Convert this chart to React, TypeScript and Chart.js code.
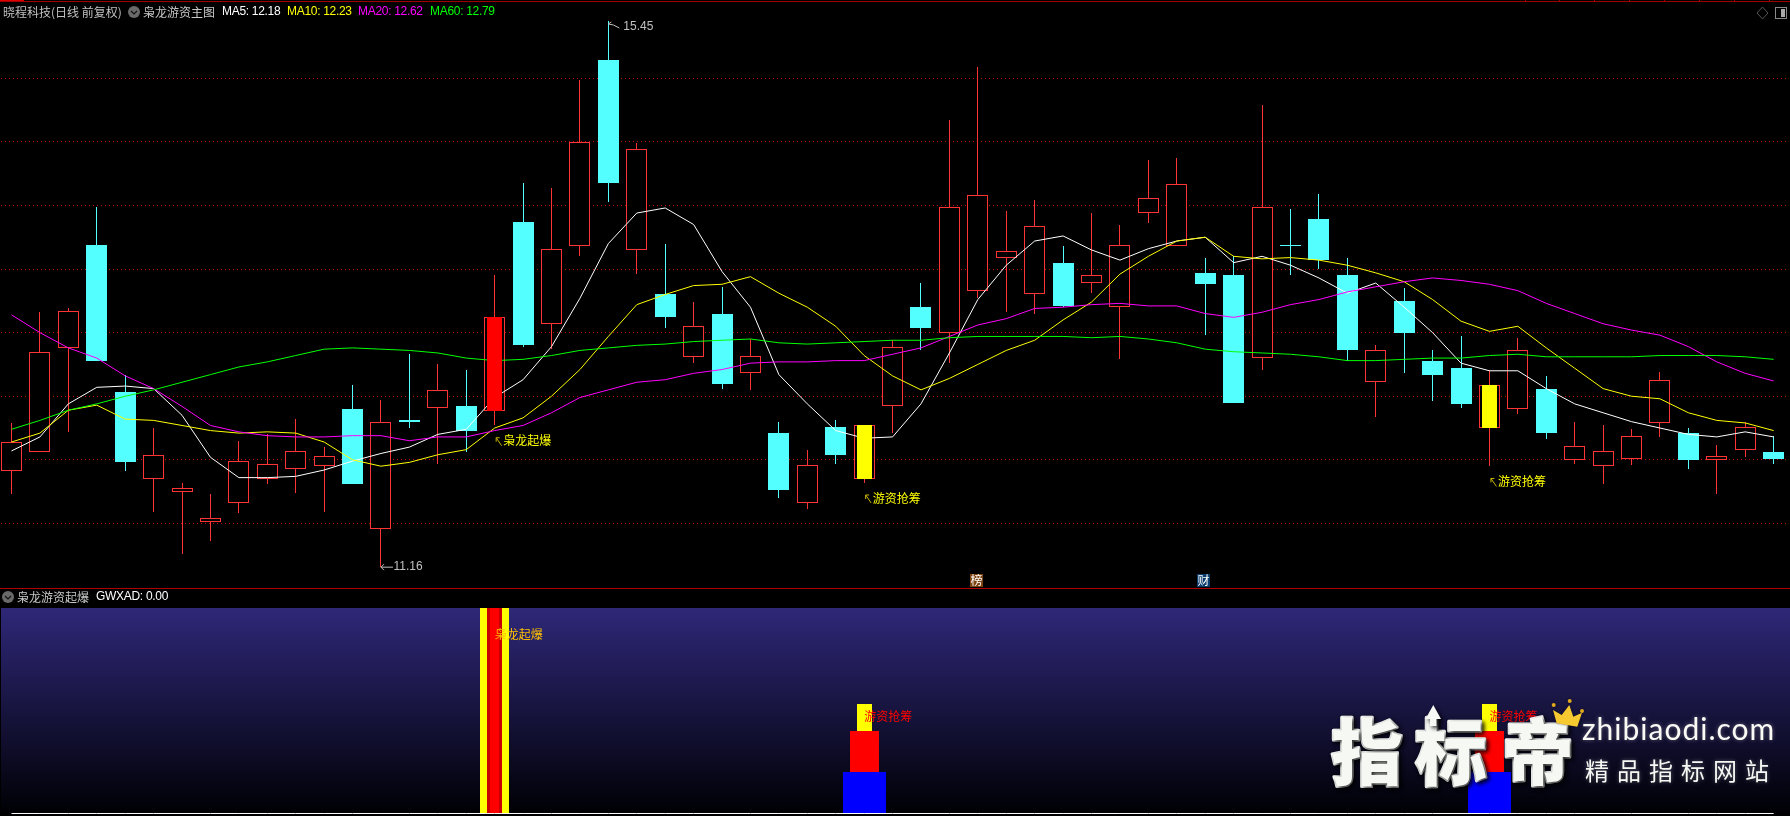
import React, { useEffect, useRef } from "react";
import { Chart, registerables } from "chart.js";

Chart.register(...registerables);

// ---------- data ----------
const opens = [11.91,12.06,12.88,13.69,12.53,11.85,11.75,11.51,11.66,11.85,11.93,11.95,12.40,11.46,12.31,12.41,12.42,12.38,13.87,13.07,13.68,15.14,13.65,13.30,12.81,13.15,12.68,12.21,11.66,12.26,11.85,12.42,13.20,13.00,13.33,13.59,13.30,13.55,13.39,13.20,13.94,13.68,13.47,13.45,12.80,13.69,13.89,13.45,12.61,13.25,12.78,12.72,12.25,12.40,12.56,12.00,11.95,12.01,12.29,12.21,12.00,12.08,12.06];
const highs = [12.29,13.16,13.19,13.99,12.67,12.25,11.82,11.73,12.15,12.20,12.32,12.10,12.59,12.47,12.83,12.75,12.71,13.45,14.18,14.14,14.99,15.45,14.49,13.70,13.24,13.36,12.95,12.30,12.08,12.31,12.27,12.94,13.39,14.67,15.09,13.96,14.04,13.68,13.94,13.85,14.36,14.37,13.59,13.60,14.79,13.97,14.09,13.59,12.90,13.35,12.86,12.97,12.71,12.96,12.66,12.30,12.27,12.24,12.69,12.25,12.12,12.30,12.19];
const lows = [11.73,12.06,12.22,12.78,11.91,11.59,11.26,11.36,11.58,11.81,11.74,11.59,11.81,11.16,12.25,11.97,12.06,12.27,12.89,12.87,13.60,14.03,13.46,13.04,12.76,12.56,12.55,11.70,11.61,11.97,11.82,12.21,12.86,12.76,13.27,13.16,13.15,13.20,13.31,12.79,13.86,13.68,12.98,12.45,12.71,13.45,13.50,12.78,12.34,12.68,12.46,12.41,11.95,12.36,12.16,11.97,11.81,11.96,12.18,11.93,11.73,12.02,11.97];
const closes = [12.14,12.85,13.17,12.78,11.98,12.04,11.78,11.54,11.99,11.97,12.07,12.03,11.81,12.30,12.30,12.55,12.23,13.12,12.90,13.66,14.50,14.18,14.44,13.12,13.05,12.60,12.82,11.76,11.96,12.04,12.27,12.89,13.04,13.99,14.08,13.64,13.84,13.21,13.45,13.69,14.06,14.17,13.38,12.45,13.99,13.68,13.57,12.86,12.86,13.00,12.67,12.44,12.59,12.86,12.21,12.11,12.07,12.19,12.63,12.00,12.03,12.26,12.01];

const ma5 = [12.07,12.18,12.44,12.57,12.58,12.56,12.35,12.02,11.86,11.86,11.87,11.92,11.99,12.05,12.10,12.20,12.24,12.49,12.63,12.89,13.27,13.70,13.94,13.98,13.85,13.48,13.20,12.67,12.44,12.23,12.17,12.18,12.44,12.84,13.26,13.53,13.72,13.76,13.65,13.57,13.66,13.72,13.75,13.55,13.60,13.53,13.43,13.31,13.39,13.20,13.00,12.76,12.70,12.70,12.56,12.44,12.37,12.30,12.25,12.20,12.18,12.22,12.18];
const ma10 = [12.14,12.21,12.39,12.43,12.32,12.31,12.27,12.23,12.21,12.22,12.21,12.14,12.00,11.95,11.98,12.04,12.08,12.25,12.33,12.50,12.71,12.97,13.22,13.30,13.37,13.38,13.44,13.31,13.20,13.05,12.82,12.66,12.55,12.64,12.75,12.86,12.94,13.10,13.24,13.46,13.60,13.72,13.75,13.60,13.58,13.59,13.57,13.53,13.47,13.40,13.26,13.09,13.01,13.05,12.88,12.72,12.56,12.50,12.48,12.37,12.31,12.29,12.23];
const ma20 = [13.14,13.00,12.88,12.80,12.66,12.56,12.42,12.27,12.22,12.19,12.18,12.18,12.19,12.19,12.15,12.18,12.18,12.23,12.27,12.37,12.49,12.55,12.61,12.63,12.68,12.71,12.76,12.77,12.77,12.78,12.78,12.83,12.88,12.97,13.06,13.11,13.19,13.20,13.22,13.23,13.21,13.21,13.15,13.12,13.16,13.22,13.26,13.32,13.36,13.40,13.43,13.41,13.38,13.33,13.23,13.15,13.07,13.02,12.98,12.89,12.77,12.68,12.62];
const ma60 = [12.24,12.31,12.39,12.44,12.50,12.55,12.61,12.67,12.73,12.77,12.82,12.87,12.88,12.87,12.86,12.84,12.80,12.78,12.79,12.82,12.86,12.88,12.90,12.91,12.93,12.94,12.95,12.92,12.91,12.92,12.93,12.94,12.94,12.96,12.97,12.97,12.97,12.97,12.96,12.97,12.95,12.92,12.87,12.85,12.84,12.83,12.81,12.78,12.78,12.79,12.80,12.80,12.82,12.83,12.81,12.81,12.81,12.81,12.82,12.82,12.82,12.81,12.79];
const gridTicks = [11.5,12,12.5,13,13.5,14,14.5,15];

const gwxad = [0,0,0,0,0,0,0,0,0,0,0,0,0,0,0,0,0,0,0,0,0,0,0,0,0,0,0,0,0,0,0,0,0,0,0,0,0,0,0,0,0,0,0,0,0,0,0,0,0,0,0,0,0,0,0,0,0,0,0,0,0,0,0];

const igniteDays = [17];
const igniteTop = [100];
const chipDays = [30, 52];
const chipBlue = [20, 20];
const chipRed = [40, 40];
const chipYellow = [53.2, 53.2];

const mainSignalDays = [17, 30, 52];
const mainSignalColors = ["#ff0000", "#ffff00", "#ffff00"];

const mainTagDays = [17, 30, 52];
const mainTagPrices = [12.15, 11.7, 11.83];
const mainTagTexts = ["枭龙起爆", "游资抢筹", "游资抢筹"];
const subTagDays = [17, 30, 52];
const subTagValues = [86.9, 47, 47];
const subTagTexts = ["枭龙起爆", "游资抢筹", "游资抢筹"];
const subTagColors = ["#ffc000", "#ff0000", "#ff0000"];
const badgeDays = [34, 42];
const badgeTexts = ["榜", "财"];
const badgeColors = ["#7a4310", "#0c3c6c"];
const frameTicks = [1525, 1559, 1594, 1629, 1664, 1699, 1734, 1769];

const UP = "#ff3535";
const DOWN = "#54ffff";
const CJK = '"Noto Sans CJK SC"';
const LATIN = '"Liberation Sans"';

const X_MIN = -0.3695;
const X_MAX = 62.47;

const idx = opens.map((_, i) => i);
const barBase = { type: "bar", grouped: false, inflateAmount: 0, clip: false, borderSkipped: false };
const lineBase = { type: "line", pointRadius: 0, borderWidth: 1, tension: 0, clip: false, fill: false };

function text(ctx: any, s: string, x: number, y: number, color: string, font: string, spacing = "0px") {
  ctx.font = font;
  ctx.fillStyle = color;
  ctx.textBaseline = "middle";
  ctx.textAlign = "left";
  ctx.letterSpacing = spacing;
  ctx.fillText(s, x, y);
  ctx.letterSpacing = "0px";
}

function chevronDot(ctx: any, x: number, y: number) {
  ctx.fillStyle = "#6a6a6a";
  ctx.beginPath();
  ctx.arc(x, y, 6, 0, Math.PI * 2);
  ctx.fill();
  ctx.strokeStyle = "#111";
  ctx.lineWidth = 1.2;
  ctx.beginPath();
  ctx.moveTo(x - 3, y - 1);
  ctx.lineTo(x, y + 2);
  ctx.lineTo(x + 3, y - 1);
  ctx.stroke();
}

// Snap bar elements to whole pixels, as the terminal's bitmap drawing does.
const snapBars = {
  id: "snapBars",
  afterDatasetsUpdate(chart: any) {
    chart.getSortedVisibleDatasetMetas().forEach((m: any) => {
      if (m.type !== "bar") return;
      m.data.forEach((el: any) => {
        const top = Math.round(el.y);
        const base = Math.round(el.base);
        el.x = Math.floor(el.x) + 0.5;
        el.y = top;
        el.base = base === top ? top + 1 : base;
        el.height = el.base - el.y;
      });
    });
  },
};

const mainOverlay = {
  id: "mainOverlay",
  afterDraw(chart: any) {
    const { ctx, scales } = chart;
    const x = scales.x;
    const y = scales.y;
    ctx.save();
    // frame line
    ctx.fillStyle = "#a00000";
    ctx.fillRect(0, 1, 1790, 1);
    ctx.fillStyle = "#e00000";
    ctx.fillRect(0, 0, 24, 1);
    ctx.fillStyle = "#a00000";
    frameTicks.forEach((t) => ctx.fillRect(t, 0, 1, 1));
    // header
    text(ctx, "晓程科技(日线 前复权)", 3, 12, "#c0c0c0", `12px ${CJK}`);
    chevronDot(ctx, 134, 12);
    text(ctx, "枭龙游资主图", 143, 12, "#c8c8c8", `12px ${CJK}`);
    text(ctx, "MA5: 12.18", 222, 12, "#ffffff", `12px ${LATIN}`, "-0.3px");
    text(ctx, "MA10: 12.23", 287, 12, "#ffff00", `12px ${LATIN}`, "-0.3px");
    text(ctx, "MA20: 12.62", 358, 12, "#ff00ff", `12px ${LATIN}`, "-0.3px");
    text(ctx, "MA60: 12.79", 430, 12, "#00ff00", `12px ${LATIN}`, "-0.3px");
    // right icons
    ctx.strokeStyle = "#555";
    ctx.lineWidth = 1;
    ctx.beginPath();
    ctx.moveTo(1762.5, 7);
    ctx.lineTo(1768, 13);
    ctx.lineTo(1762.5, 19);
    ctx.lineTo(1757, 13);
    ctx.closePath();
    ctx.stroke();
    ctx.strokeStyle = "#888";
    ctx.strokeRect(1775.5, 7.5, 11, 11);
    ctx.fillStyle = "#aaa";
    ctx.fillRect(1781, 9, 4, 8);
    // high / low labels
    const lowX = x.getPixelForValue(13);
    const lowY = y.getPixelForValue(11.16);
    ctx.strokeStyle = "#c0c0c0";
    ctx.lineWidth = 1;
    ctx.beginPath();
    ctx.moveTo(lowX + 12, lowY + 0.5);
    ctx.lineTo(lowX, lowY + 0.5);
    ctx.moveTo(lowX + 3, lowY - 2.5);
    ctx.lineTo(lowX, lowY + 0.5);
    ctx.lineTo(lowX + 3, lowY + 3.5);
    ctx.stroke();
    text(ctx, "11.16", lowX + 12.5, lowY, "#c0c0c0", `12px ${LATIN}`);
    const hiX = x.getPixelForValue(21);
    const hiY = y.getPixelForValue(15.45);
    ctx.beginPath();
    ctx.moveTo(hiX + 11, hiY + 7);
    ctx.lineTo(hiX + 5, hiY + 4);
    ctx.lineTo(hiX, hiY + 3);
    ctx.moveTo(hiX + 3, hiY + 1);
    ctx.lineTo(hiX, hiY + 3);
    ctx.stroke();
    text(ctx, "15.45", hiX + 15, hiY + 6, "#c0c0c0", `12px ${LATIN}`);
    // signal tags
    mainTagDays.forEach((d, k) => {
      const px = x.getPixelForValue(d);
      const py = y.getPixelForValue(mainTagPrices[k]);
      ctx.strokeStyle = "#c8b400";
      ctx.lineWidth = 1;
      ctx.beginPath();
      ctx.moveTo(px + 7, py + 5);
      ctx.lineTo(px + 1.5, py - 3);
      ctx.moveTo(px + 1.5, py + 1);
      ctx.lineTo(px + 1.5, py - 3);
      ctx.lineTo(px + 5, py - 3);
      ctx.stroke();
      text(ctx, mainTagTexts[k], px + 8.5, py, "#ffff00", `12px ${CJK}`);
    });
    // badges
    badgeDays.forEach((d, k) => {
      const px = x.getPixelForValue(d) - 8;
      ctx.fillStyle = badgeColors[k];
      ctx.fillRect(Math.round(px), 574, 13, 13);
      text(ctx, badgeTexts[k], Math.round(px) + 0.5, 580.5, "#ffffff", `12px ${CJK}`);
    });
    ctx.restore();
  },
};

const subBackdrop = {
  id: "subBackdrop",
  beforeDraw(chart: any) {
    const { ctx, scales } = chart;
    const top = scales.y.getPixelForValue(100);
    const bottom = scales.y.getPixelForValue(0);
    const g = ctx.createLinearGradient(0, top, 0, bottom);
    g.addColorStop(0, "#2e2878");
    g.addColorStop(1, "#000004");
    ctx.save();
    ctx.fillStyle = g;
    ctx.fillRect(1, top, 1789, bottom - top + 1);
    ctx.restore();
  },
};

const subOverlay = {
  id: "subOverlay",
  afterDraw(chart: any) {
    const { ctx, scales } = chart;
    const x = scales.x;
    const y = scales.y;
    ctx.save();
    ctx.fillStyle = "#b00000";
    ctx.fillRect(0, 0, 1790, 1);
    chevronDot(ctx, 8, 9);
    text(ctx, "枭龙游资起爆", 17, 9, "#c8c8c8", `12px ${CJK}`);
    text(ctx, "GWXAD: 0.00", 96, 9, "#ffffff", `12px ${LATIN}`, "-0.3px");
    subTagDays.forEach((d, k) => {
      text(ctx, subTagTexts[k], x.getPixelForValue(d), y.getPixelForValue(subTagValues[k]), subTagColors[k], `12px ${CJK}`);
    });
    // watermark (canvas y = page y - 588)
    const oy = -588;
    ctx.shadowColor = "rgba(0,0,0,0.85)";
    ctx.shadowBlur = 4;
    ctx.shadowOffsetX = 2;
    ctx.shadowOffsetY = 2;
    ctx.fillStyle = "#f6f8f4";
    ctx.strokeStyle = "#f6f8f4";
    ctx.lineWidth = 3;
    ctx.lineJoin = "round";
    ctx.font = `900 72px ${CJK}`;
    ctx.textAlign = "center";
    ctx.textBaseline = "middle";
    [["指", 1367], ["标", 1451], ["帝", 1538]].forEach(([c, cx]: any) => {
      ctx.strokeText(c, cx, 752 + oy);
      ctx.fillText(c, cx, 752 + oy);
    });
    ctx.beginPath();
    ctx.moveTo(1433.3, 705 + oy);
    ctx.lineTo(1441, 719 + oy);
    ctx.lineTo(1436.5, 719 + oy);
    ctx.lineTo(1436.5, 726 + oy);
    ctx.lineTo(1430, 726 + oy);
    ctx.lineTo(1430, 719 + oy);
    ctx.lineTo(1425.5, 719 + oy);
    ctx.closePath();
    ctx.fill();
    ctx.shadowOffsetX = 0;
    ctx.shadowOffsetY = 0;
    ctx.shadowColor = "rgba(255,255,255,0.35)";
    text(ctx, "zhibiaodi.com", 1582, 730 + oy, "#fbfbf6", `30px Lato`, "1px");
    text(ctx, "精品指标网站", 1585, 771 + oy, "#f6f8f4", `24px ${CJK}`, "8px");
    // crown
    ctx.shadowColor = "rgba(0,0,0,0.6)";
    ctx.shadowBlur = 2;
    ctx.fillStyle = "#f5c92f";
    ctx.beginPath();
    ctx.moveTo(1556.7, 723.3 + oy);
    ctx.lineTo(1553, 710 + oy);
    ctx.lineTo(1561.7, 715 + oy);
    ctx.lineTo(1569.3, 705 + oy);
    ctx.lineTo(1573.3, 716.7 + oy);
    ctx.lineTo(1582, 712.7 + oy);
    ctx.lineTo(1577.3, 726.7 + oy);
    ctx.closePath();
    ctx.fill();
    ctx.fillStyle = "#e0a820";
    [[1553.7, 705], [1569.7, 701], [1582, 711]].forEach(([bx, by]) => {
      ctx.beginPath();
      ctx.arc(bx, by + oy, 2, 0, Math.PI * 2);
      ctx.fill();
    });
    ctx.restore();
  },
};

const baseOptions = {
  responsive: false,
  animation: false,
  events: [],
  plugins: { legend: { display: false }, tooltip: { enabled: false }, title: { display: false } },
};

export default function App() {
  const mainRef = useRef<HTMLCanvasElement>(null);
  const subRef = useRef<HTMLCanvasElement>(null);

  useEffect(() => {
    const candleColor = idx.map((i) => (closes[i] >= opens[i] ? UP : DOWN));
    const bodyFill = idx.map((i) => (closes[i] >= opens[i] ? "#000000" : DOWN));
    const main = new Chart(mainRef.current as any, {
      type: "bar",
      data: {
        datasets: [
          {
            ...barBase,
            order: 10,
            barThickness: 1,
            data: idx.map((i) => ({ x: i, y: [lows[i], highs[i]] })),
            backgroundColor: candleColor,
            borderWidth: 0,
          },
          {
            ...barBase,
            order: 9,
            barThickness: 21,
            data: idx.map((i) => ({ x: i, y: [Math.min(opens[i], closes[i]), Math.max(opens[i], closes[i])] })),
            backgroundColor: bodyFill,
            borderColor: candleColor,
            borderWidth: 1,
          },
          { ...lineBase, order: 5, data: idx.map((i) => ({ x: i, y: ma60[i] })), borderColor: "#00ff00" },
          { ...lineBase, order: 6, data: idx.map((i) => ({ x: i, y: ma20[i] })), borderColor: "#ff00ff" },
          { ...lineBase, order: 7, data: idx.map((i) => ({ x: i, y: ma10[i] })), borderColor: "#ffff00" },
          { ...lineBase, order: 8, data: idx.map((i) => ({ x: i, y: ma5[i] })), borderColor: "#ffffff" },
          {
            ...barBase,
            order: 1,
            barThickness: 15,
            data: mainSignalDays.map((d) => ({ x: d, y: [opens[d], closes[d]] })),
            backgroundColor: mainSignalColors,
            borderWidth: 0,
          },
        ] as any,
      },
      options: {
        ...baseOptions,
        layout: { padding: { left: 1, right: 3, top: 0, bottom: 0 } },
        scales: {
          x: { type: "linear", display: false, min: X_MIN, max: X_MAX, offset: false },
          y: {
            type: "linear",
            position: "left",
            min: 15.615 - 588 / 127.2,
            max: 15.615,
            afterBuildTicks: (s: any) => {
              s.ticks = gridTicks.map((value) => ({ value }));
            },
            afterFit: (s: any) => {
              s.width = 0;
            },
            ticks: { display: false },
            border: { display: false, dash: [1, 3] },
            grid: { color: "#c00000", lineWidth: 1, drawTicks: false },
          },
        },
      } as any,
      plugins: [snapBars, mainOverlay] as any,
    });

    const sub = new Chart(subRef.current as any, {
      type: "bar",
      data: {
        datasets: [
          { ...lineBase, order: 9, data: idx.map((i) => ({ x: i, y: gwxad[i] })), borderColor: "#ffffff" },
          {
            ...barBase,
            order: 5,
            barThickness: 29,
            data: igniteDays.map((d, k) => ({ x: d, y: [0, igniteTop[k]] })),
            backgroundColor: "#ffff00",
            borderWidth: 0,
          },
          {
            ...barBase,
            order: 4,
            barThickness: 15,
            data: igniteDays.map((d, k) => ({ x: d, y: [0, igniteTop[k]] })),
            backgroundColor: "#c80000",
            borderWidth: 0,
          },
          {
            ...barBase,
            order: 3,
            barThickness: 9,
            data: igniteDays.map((d, k) => ({ x: d, y: [0, igniteTop[k]] })),
            backgroundColor: "#ff0000",
            borderWidth: 0,
          },
          {
            ...barBase,
            order: 5,
            barThickness: 43,
            data: chipDays.map((d, k) => ({ x: d, y: [0, chipBlue[k]] })),
            backgroundColor: "#0000ff",
            borderWidth: 0,
          },
          {
            ...barBase,
            order: 4,
            barThickness: 29,
            data: chipDays.map((d, k) => ({ x: d, y: [chipBlue[k], chipRed[k]] })),
            backgroundColor: "#ff0000",
            borderWidth: 0,
          },
          {
            ...barBase,
            order: 3,
            barThickness: 15,
            data: chipDays.map((d, k) => ({ x: d, y: [chipRed[k], chipYellow[k]] })),
            backgroundColor: "#ffff00",
            borderWidth: 0,
          },
        ] as any,
      },
      options: {
        ...baseOptions,
        layout: { padding: { left: 1, right: 3, top: 0, bottom: 0 } },
        scales: {
          x: { type: "linear", display: false, min: X_MIN, max: X_MAX, offset: false },
          y: { type: "linear", display: false, min: -1.21655, max: 109.7324 },
        },
      } as any,
      plugins: [subBackdrop, snapBars, subOverlay] as any,
    });

    return () => {
      main.destroy();
      sub.destroy();
    };
  }, []);

  return (
    <div style={{ position: "fixed", left: 0, top: 0, width: 1790, height: 816, background: "#000", overflow: "hidden" }}>
      <canvas ref={mainRef} width={1790} height={588} style={{ position: "absolute", left: 0, top: 0, display: "block" }} />
      <canvas ref={subRef} width={1790} height={228} style={{ position: "absolute", left: 0, top: 588, display: "block" }} />
    </div>
  );
}
